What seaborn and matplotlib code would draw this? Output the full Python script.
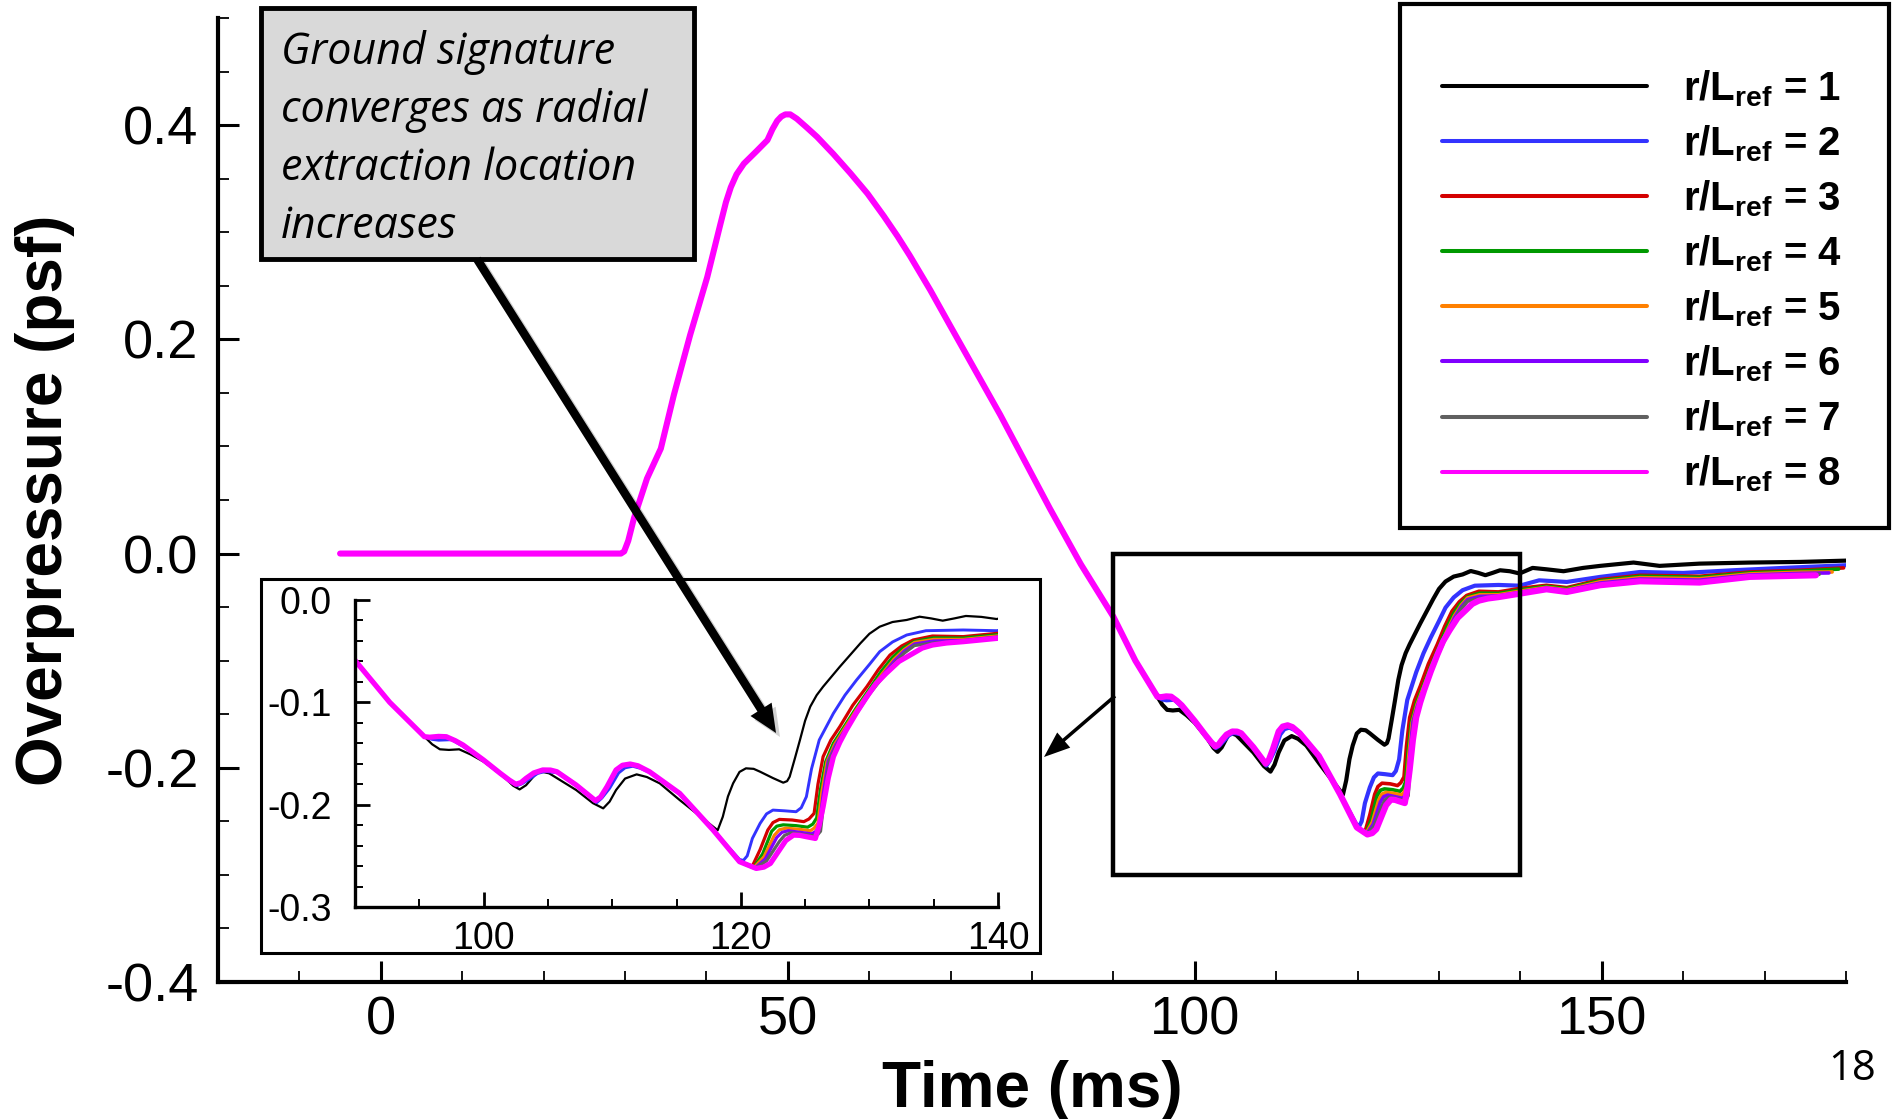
import os
import numpy as np
import pandas as pd
import matplotlib
matplotlib.use("Agg")
import matplotlib.pyplot as plt
import seaborn as sns
from matplotlib.patches import Rectangle, FancyArrow
from matplotlib.lines import Line2D
from matplotlib.ticker import MultipleLocator, FixedLocator, FixedFormatter
from matplotlib import font_manager

# ---------------- data ----------------
series_ids = [1, 2, 3, 4, 5, 6, 7, 8]
series_colors = ["#000000", "#3333ff", "#d40000", "#009900",
                 "#ff8000", "#8000ff", "#606060", "#ff00ff"]

# part shared by every series (-5 .. 95.4 ms)
t_common = [-5.0, 29.5, 29.9, 30.4, 31.1, 32.7, 34.4, 36.0, 38.0, 40.1, 41.7,
            42.4, 43.0, 43.7, 44.6, 46.2, 47.5, 48.1, 48.7, 49.2, 49.7, 50.3,
            51.1, 52.3, 53.6, 55.6, 57.7, 59.8, 61.8, 63.5, 65.0, 67.5, 70.0,
            76.1, 82.2, 86.0, 90.0, 92.7, 95.4]
p_common = [0.0, 0.0, 0.002, 0.012, 0.033, 0.070, 0.098, 0.148, 0.204, 0.258,
            0.307, 0.328, 0.342, 0.354, 0.364, 0.376, 0.386, 0.396, 0.404,
            0.408, 0.410, 0.410, 0.406, 0.398, 0.389, 0.373, 0.355, 0.336,
            0.315, 0.296, 0.278, 0.246, 0.212, 0.1295, 0.042, -0.010, -0.059,
            -0.100, -0.1336]

# coincident bundle of r/Lref = 3..8 (95.8 .. 119.9 ms)
t_bundle = [95.8, 96.5, 97.1, 97.8, 98.4, 100.0, 101.3, 102.0, 102.5, 102.9,
            103.3, 103.9, 104.6, 105.2, 105.7, 107.2, 108.2, 108.7, 109.1,
            109.6, 110.3, 110.8, 111.4, 112.0, 112.9, 115.25, 117.85, 119.9]
p_bundle = [-0.1341, -0.1333, -0.1336, -0.1375, -0.1417, -0.1564, -0.1694,
            -0.1760, -0.1800, -0.1785, -0.1743, -0.1690, -0.1661, -0.1662,
            -0.1678, -0.1808, -0.1910, -0.1961, -0.1925, -0.1824, -0.1661,
            -0.1615, -0.1603, -0.1620, -0.1678, -0.1890, -0.2248, -0.2557]

t_r1 = [96.0, 96.6, 97.3, 98.1, 99.0, 100.0, 101.5, 102.3, 102.8, 103.3, 104.1,
        104.6, 105.1, 107.2, 108.5, 109.3, 109.8, 110.3, 111.0, 111.9, 112.7,
        113.7, 115.25, 117.0, 118.2, 118.6, 119.0, 119.4, 119.9, 120.4, 121.0,
        121.5, 122.5, 123.3, 123.6, 123.8, 124.2, 124.6, 125.0, 125.4, 125.9,
        126.4, 127.7, 129.3, 130.0, 130.8, 131.8, 132.9, 133.9, 134.8, 135.7,
        136.6, 137.5, 138.7, 139.9, 141.5, 143.2, 145.3, 147.7, 149.8, 153.9,
        157.1, 162.0, 168.2, 174.4, 180.0]
p_r1 = [-0.1410, -0.1459, -0.1465, -0.1459, -0.1510, -0.1580, -0.1720, -0.1815,
        -0.1851, -0.1810, -0.1694, -0.1680, -0.1694, -0.1857, -0.1985, -0.2036,
        -0.1970, -0.1857, -0.1745, -0.1704, -0.1730, -0.1792, -0.1955, -0.2130,
        -0.2250, -0.2118, -0.1920, -0.1792, -0.1680, -0.1645, -0.1650, -0.1678,
        -0.1740, -0.1785, -0.1770, -0.1727, -0.1550, -0.1368, -0.1180, -0.1042,
        -0.0930, -0.0847, -0.0652, -0.0423, -0.0330, -0.0261, -0.0215, -0.0195,
        -0.0163, -0.0180, -0.0202, -0.0180, -0.0156, -0.0165, -0.0186, -0.0134,
        -0.0147, -0.0165, -0.0134, -0.0115, -0.0084, -0.0115, -0.0094, -0.0084,
        -0.0078, -0.0066]

t_r2 = [96.0, 96.5, 97.5, 98.4, 100.0, 101.3, 102.0, 102.6, 103.0, 103.5, 104.2,
        104.8, 105.8, 107.2, 108.3, 108.8, 109.2, 109.8, 110.5, 111.0, 111.6,
        112.2, 113.0, 115.25, 117.85, 119.9, 120.2, 120.5, 120.9, 121.5, 122.0,
        122.5, 123.4, 124.3, 124.7, 125.1, 125.5, 126.1, 127.2, 128.1, 129.0,
        130.0, 130.8, 131.8, 132.9, 134.4, 137.3, 139.9, 142.3, 145.7, 149.8,
        154.7, 160.0, 166.1, 172.3, 180.0]
p_r2 = [-0.1362, -0.1370, -0.1365, -0.1430, -0.1570, -0.1700, -0.1770, -0.1815,
        -0.1795, -0.1755, -0.1695, -0.1675, -0.1690, -0.1815, -0.1930, -0.1980,
        -0.1935, -0.1840, -0.1690, -0.1640, -0.1625, -0.1645, -0.1690, -0.1895,
        -0.2248, -0.2535, -0.2545, -0.2500, -0.2330, -0.2183, -0.2090, -0.2053,
        -0.2060, -0.2069, -0.2030, -0.1922, -0.1650, -0.1368, -0.1108, -0.0930,
        -0.0782, -0.0630, -0.0505, -0.0410, -0.0342, -0.0300, -0.0293, -0.0300,
        -0.0250, -0.0265, -0.0218, -0.0172, -0.0181, -0.0156, -0.0134, -0.0109]

t_r3 = [120.9, 121.5, 122.1, 122.5, 123.0, 124.0, 124.9, 125.3, 125.7, 126.0,
        126.4, 127.0, 127.7, 128.7, 129.8, 130.7, 131.6, 132.5, 133.4, 134.9,
        137.3, 139.9, 143.2, 145.7, 149.8, 154.7, 162.0, 168.2, 174.4, 179.7]
p_r3 = [-0.2600, -0.2440, -0.2248, -0.2175, -0.2144, -0.2150, -0.2166, -0.2140,
        -0.2085, -0.1800, -0.1531, -0.1370, -0.1238, -0.1030, -0.0847, -0.0680,
        -0.0538, -0.0450, -0.0391, -0.0352, -0.0358, -0.0326, -0.0296, -0.0318,
        -0.0243, -0.0203, -0.0212, -0.0172, -0.0156, -0.0134]

t_r4 = [121.0, 121.7, 122.4, 122.8, 123.3, 124.3, 125.2, 125.6, 125.9, 126.2,
        126.6, 127.2, 127.9, 129.0, 130.0, 130.9, 131.8, 132.6, 133.5, 135.0,
        137.3, 139.9, 143.2, 145.7, 149.8, 154.7, 162.0, 168.2, 174.4, 179.1]
p_r4 = [-0.2615, -0.2480, -0.2260, -0.2210, -0.2197, -0.2205, -0.2220, -0.2190,
        -0.2130, -0.1850, -0.1580, -0.1400, -0.1265, -0.1050, -0.0870, -0.0700,
        -0.0560, -0.0470, -0.0405, -0.0370, -0.0372, -0.0340, -0.0306, -0.0328,
        -0.0253, -0.0212, -0.0222, -0.0180, -0.0164, -0.0145]

t_r5 = [121.0, 121.8, 122.6, 123.0, 123.5, 124.5, 125.4, 125.7, 126.0, 126.3,
        126.7, 127.3, 128.0, 129.0, 130.0, 131.0, 131.9, 132.7, 133.5, 135.0,
        137.3, 139.9, 143.2, 145.7, 149.8, 154.7, 162.0, 168.2, 174.4, 178.3]
p_r5 = [-0.2618, -0.2510, -0.2300, -0.2245, -0.2230, -0.2240, -0.2255, -0.2230,
        -0.2180, -0.1880, -0.1580, -0.1410, -0.1268, -0.1070, -0.0890, -0.0720,
        -0.0580, -0.0485, -0.0415, -0.0385, -0.0385, -0.0352, -0.0315, -0.0338,
        -0.0263, -0.0225, -0.0235, -0.0190, -0.0174, -0.0172]

t_r6 = [121.1, 121.9, 122.8, 123.2, 123.7, 124.6, 125.5, 125.8, 126.1, 126.4,
        126.8, 127.4, 128.1, 129.1, 130.0, 131.0, 131.9, 132.7, 133.5, 135.0,
        137.3, 139.9, 143.2, 145.7, 149.8, 154.7, 162.0, 168.2, 174.4, 177.9]
p_r6 = [-0.2620, -0.2530, -0.2320, -0.2270, -0.2255, -0.2270, -0.2285, -0.2265,
        -0.2220, -0.1900, -0.1570, -0.1410, -0.1270, -0.1080, -0.0905, -0.0740,
        -0.0600, -0.0500, -0.0430, -0.0400, -0.0395, -0.0362, -0.0322, -0.0345,
        -0.0275, -0.0238, -0.0248, -0.0200, -0.0185, -0.0181]

t_r7 = [121.1, 122.0, 123.0, 123.4, 123.9, 124.8, 125.7, 126.0, 126.2, 126.5,
        126.9, 127.5, 128.1, 129.1, 130.0, 131.0, 131.9, 132.7, 133.5, 135.0,
        137.3, 139.9, 143.2, 145.7, 149.8, 154.7, 162.0, 168.2, 174.4, 176.7]
p_r7 = [-0.2622, -0.2550, -0.2360, -0.2300, -0.2275, -0.2290, -0.2305, -0.2290,
        -0.2260, -0.1920, -0.1560, -0.1410, -0.1272, -0.1090, -0.0920, -0.0760,
        -0.0625, -0.0520, -0.0445, -0.0420, -0.0402, -0.0370, -0.0328, -0.0352,
        -0.0285, -0.0250, -0.0260, -0.0210, -0.0195, -0.0194]

t_r8 = [121.2, 121.8, 122.3, 123.0, 123.5, 124.1, 124.6, 125.1, 125.8, 126.1,
        126.4, 126.8, 127.2, 127.7, 128.2, 129.0, 129.8, 130.5, 131.3, 132.3,
        133.4, 134.1, 134.9, 136.0, 137.3, 139.9, 143.2, 145.7, 149.8, 154.7,
        162.0, 168.2, 176.3]
p_r8 = [-0.2623, -0.2610, -0.2574, -0.2443, -0.2350, -0.2297, -0.2300, -0.2313,
        -0.2330, -0.2200, -0.2020, -0.1740, -0.1531, -0.1390, -0.1271, -0.1100,
        -0.0945, -0.0820, -0.0717, -0.0600, -0.0521, -0.0470, -0.0440, -0.0420,
        -0.0407, -0.0375, -0.0334, -0.0359, -0.0296, -0.0259, -0.0271, -0.0218,
        -0.0203]

late_parts = {1: (t_r1, p_r1, False), 2: (t_r2, p_r2, False),
              3: (t_r3, p_r3, True), 4: (t_r4, p_r4, True),
              5: (t_r5, p_r5, True), 6: (t_r6, p_r6, True),
              7: (t_r7, p_r7, True), 8: (t_r8, p_r8, True)}

main_xlim = (-20, 180)
main_ylim = (-0.4, 0.5)
main_xticks = [0, 50, 100, 150]
main_xticklabels = ["0", "50", "100", "150"]
main_yticks = [-0.4, -0.2, 0.0, 0.2, 0.4]
main_yticklabels = ["-0.4", "-0.2", "0.0", "0.2", "0.4"]

inset_xlim = (90, 140)
inset_ylim = (-0.3, 0.0)
inset_xticks = [100, 120, 140]
inset_xticklabels = ["100", "120", "140"]
inset_yticks = [-0.3, -0.2, -0.1, 0.0]
inset_yticklabels = ["-0.3", "-0.2", "-0.1", "0.0"]

note_lines = ["Ground signature", "converges as radial",
              "extraction location", "increases"]
legend_labels = [r"r/L$_{\mathbf{ref}}$ = %d" % k for k in series_ids]

# ---------------- build long table ----------------
rows = []
for k in series_ids:
    t_late, p_late, bundled = late_parts[k]
    t_all = list(t_common) + (list(t_bundle) if bundled else []) + list(t_late)
    p_all = list(p_common) + (list(p_bundle) if bundled else []) + list(p_late)
    rows.append(pd.DataFrame({"time": t_all, "p": p_all, "series": k}))
df = pd.concat(rows, ignore_index=True)

# ---------------- style ----------------
sns.set_theme(style="white")
plt.rcParams.update({
    "font.family": ["Liberation Sans", "DejaVu Sans"],
    "axes.unicode_minus": False,
    "mathtext.fontset": "custom",
    "mathtext.rm": "Liberation Sans",
    "mathtext.bf": "Liberation Sans:bold",
    "mathtext.it": "Liberation Sans:italic",
    "text.color": "black",
    "axes.labelcolor": "black",
    "axes.edgecolor": "black",
    "xtick.color": "black",
    "ytick.color": "black",
})


def pick_italic(fams):
    for f in fams:
        try:
            path = font_manager.findfont(
                font_manager.FontProperties(family=f, style="italic"),
                fallback_to_default=False)
            base = os.path.basename(path).lower()
            if f.replace(" ", "").lower() in base.replace(" ", "").replace("-", "") and "italic" in base:
                return f
        except Exception:
            pass
    return "DejaVu Sans"


italic_family = pick_italic(["Open Sans", "Noto Sans", "Lato", "DejaVu Sans"])

W, H, DPI = 1892, 1119, 100
fig = plt.figure(figsize=(W / DPI, H / DPI), dpi=DPI, facecolor="white")


def fx(px):
    return px / W


def fy(py):
    return 1 - py / H


# main axes
ax = fig.add_axes([fx(218), fy(982), (1846 - 218) / W, (982 - 18) / H], zorder=0)
ax.set_facecolor("white")

main_lw = {1: 3.0, 2: 3.0, 3: 2.6, 4: 2.6, 5: 2.6, 6: 2.6, 7: 2.6, 8: 4.4}
inset_lw = {1: 1.6, 2: 2.1, 3: 2.3, 4: 2.3, 5: 2.3, 6: 2.3, 7: 2.3, 8: 3.8}

for k, c in zip(series_ids, series_colors):
    sub = df[df["series"] == k]
    sns.lineplot(data=sub, x="time", y="p", ax=ax, color=c, lw=main_lw[k],
                 estimator=None, legend=False, solid_joinstyle="round")

ax.set_xlim(*main_xlim)
ax.set_ylim(*main_ylim)
ax.xaxis.set_major_locator(FixedLocator(main_xticks))
ax.xaxis.set_major_formatter(FixedFormatter(main_xticklabels))
ax.xaxis.set_minor_locator(MultipleLocator(10))
ax.yaxis.set_major_locator(FixedLocator(main_yticks))
ax.yaxis.set_major_formatter(FixedFormatter(main_yticklabels))
ax.yaxis.set_minor_locator(MultipleLocator(0.05))
ax.tick_params(which="both", direction="in", bottom=True, left=True,
               top=False, right=False, colors="black")
ax.tick_params(which="major", length=15, width=2.2, labelsize=39)
ax.tick_params(which="minor", length=8, width=1.3)
ax.tick_params(axis="y", which="major", pad=14)
ax.tick_params(axis="x", which="major", pad=10)
for s in ["top", "right"]:
    ax.spines[s].set_visible(False)
for s in ["left", "bottom"]:
    ax.spines[s].set_linewidth(3.0)
    ax.spines[s].set_color("black")

ax.set_xlabel("Time (ms)", fontsize=46, fontweight="bold")
ax.xaxis.label.set_va("baseline")
ax.xaxis.set_label_coords((1032 - 218) / 1628, (982 - 1107) / 964)
ax.set_ylabel("Overpressure (psf)", fontsize=46, fontweight="bold")
ax.yaxis.label.set_va("center")
ax.yaxis.set_label_coords((45 - 218) / 1628, 0.5)

# zoom window marker in the main axes
ax.add_patch(Rectangle((inset_xlim[0], inset_ylim[0]),
                       inset_xlim[1] - inset_xlim[0],
                       inset_ylim[1] - inset_ylim[0],
                       fill=False, ec="black", lw=3.2, zorder=6))

# lower overlay (inset frame)
ov_lo = fig.add_axes([0, 0, 1, 1], zorder=1)
ov_lo.set_xlim(0, W)
ov_lo.set_ylim(H, 0)
ov_lo.set_facecolor("none")
ov_lo.axis("off")
ov_lo.add_patch(Rectangle((261, 579), 779, 374, fc="white", ec="black", lw=2.2))

# inset axes
ax_in = fig.add_axes([fx(355), fy(907), (998 - 355) / W, (907 - 600) / H], zorder=2)
ax_in.set_facecolor("none")
for k, c in zip(series_ids, series_colors):
    sub = df[df["series"] == k]
    sns.lineplot(data=sub, x="time", y="p", ax=ax_in, color=c, lw=inset_lw[k],
                 estimator=None, legend=False, solid_joinstyle="round")
ax_in.set_xlim(*inset_xlim)
ax_in.set_ylim(*inset_ylim)
ax_in.xaxis.set_major_locator(FixedLocator(inset_xticks))
ax_in.xaxis.set_major_formatter(FixedFormatter(inset_xticklabels))
ax_in.xaxis.set_minor_locator(MultipleLocator(5))
ax_in.yaxis.set_major_locator(FixedLocator(inset_yticks))
ax_in.yaxis.set_major_formatter(FixedFormatter(inset_yticklabels))
ax_in.yaxis.set_minor_locator(MultipleLocator(0.02))
ax_in.tick_params(which="both", direction="in", bottom=True, left=True,
                  top=False, right=False, colors="black")
ax_in.tick_params(which="major", length=11, width=2.0, labelsize=27)
ax_in.tick_params(which="minor", length=6, width=1.4)
ax_in.tick_params(axis="y", which="major", pad=17)
ax_in.tick_params(axis="x", which="major", pad=10)
ax_in.set_xlabel("")
ax_in.set_ylabel("")
for s in ["top", "right"]:
    ax_in.spines[s].set_visible(False)
for s in ["left", "bottom"]:
    ax_in.spines[s].set_linewidth(2.4)
    ax_in.spines[s].set_color("black")

# upper overlay (annotation, arrows, legend frame)
ov_hi = fig.add_axes([0, 0, 1, 1], zorder=3)
ov_hi.set_xlim(0, W)
ov_hi.set_ylim(H, 0)
ov_hi.set_facecolor("none")
ov_hi.axis("off")

ov_hi.add_patch(Rectangle((261, 8), 433, 251, fc="#d9d9d9", ec="black", lw=3.5))
for i, line in enumerate(note_lines):
    ov_hi.text(281, 64 + i * 58, line, fontsize=31, style="italic",
               family=italic_family, ha="left", va="baseline", color="black")

# big arrow (with soft shadow)
ov_hi.add_patch(FancyArrow(481, 263, 776 - 477, 733 - 259, width=8.5,
                           head_width=25, head_length=28,
                           length_includes_head=True, fc="black", ec="none",
                           alpha=0.18))
ov_hi.add_patch(FancyArrow(477, 259, 776 - 477, 733 - 259, width=8.5,
                           head_width=25, head_length=28,
                           length_includes_head=True, fc="black", ec="none"))
# small arrow from zoom box to inset
ov_hi.add_patch(FancyArrow(1115, 696, 1044 - 1115, 757 - 696, width=3.5,
                           head_width=20, head_length=26,
                           length_includes_head=True, fc="black", ec="none"))

# legend frame
ov_hi.add_patch(Rectangle((1400, 4), 489, 524, fc="white", ec="black", lw=3.0))

handles = [Line2D([0], [0], color=c, lw=2.9) for c in series_colors]
leg = fig.legend(handles, legend_labels, loc="upper left",
                 bbox_to_anchor=(fx(1442), fy(68)), bbox_transform=fig.transFigure,
                 frameon=False,
                 prop=font_manager.FontProperties(family="Liberation Sans",
                                                  weight="bold", size=29),
                 handlelength=5.09, handletextpad=0.89, labelspacing=0.36,
                 borderpad=0, borderaxespad=0)

# slide number
fig.text(fx(1852), fy(1080), "18", ha="center", va="baseline", fontsize=30,
         family=["Open Sans", "DejaVu Sans"], color="black")

fig.savefig("out.png", dpi=DPI, facecolor="white")
